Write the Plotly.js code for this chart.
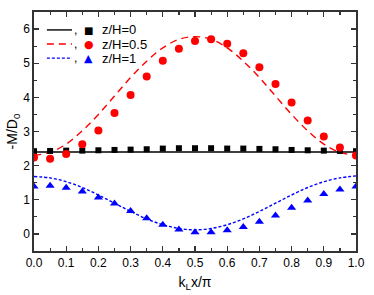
<!DOCTYPE html>
<html>
<head>
<meta charset="utf-8">
<script src="https://cdn.plot.ly/plotly-3.0.1.min.js"></script>
<style>html,body{margin:0;padding:0;background:#fff;}#chart{width:374px;height:295px;}</style>
</head>
<body>
<div id="chart"></div>
<script>
var xPts = [0,0.05,0.1,0.15,0.2,0.25,0.3,0.35,0.4,0.45,0.5,0.55,0.6,0.65,0.7,0.75,0.8,0.85,0.9,0.95,1.0];
var sq0 = [2.43,2.43,2.44,2.44,2.45,2.46,2.47,2.48,2.50,2.51,2.51,2.51,2.50,2.50,2.49,2.48,2.46,2.45,2.44,2.43,2.43];
var circ05 = [2.24,2.20,2.34,2.63,3.03,3.54,4.07,4.61,5.07,5.42,5.65,5.70,5.57,5.29,4.88,4.39,3.85,3.32,2.85,2.53,2.30];
var tri1 = [1.39,1.41,1.35,1.24,1.07,0.89,0.67,0.46,0.27,0.13,0.05,0.05,0.11,0.20,0.36,0.54,0.77,0.98,1.17,1.30,1.39];
var xLine = [0,0.05,0.1,0.15,0.2,0.25,0.3,0.35,0.4,0.45,0.5,0.55,0.6,0.65,0.7,0.75,0.8,0.85,0.9,0.95,1.0];
var line0 = [2.40,2.40,2.40,2.40,2.40,2.40,2.40,2.40,2.40,2.40,2.40,2.40,2.40,2.40,2.40,2.40,2.40,2.40,2.40,2.40,2.40];
var line05 = [2.30,2.39,2.63,3.02,3.50,4.04,4.58,5.06,5.45,5.70,5.78,5.70,5.45,5.06,4.58,4.04,3.50,3.02,2.63,2.39,2.30];
var line1 = [1.68,1.64,1.53,1.36,1.14,0.90,0.66,0.44,0.27,0.16,0.12,0.16,0.27,0.44,0.66,0.90,1.14,1.36,1.53,1.64,1.70];
var legendLabels = ["z/H=0","z/H=0.5","z/H=1"];
var legendSymbols = ["\u25A0","\u25CF","\u25B2"];
var colors = ["#000000","#ff0000","#0000ff"];
var dashes = ["solid","7px,5px","3px,2px"];

var traces = [
  {x:xLine,y:line0,mode:"lines",line:{color:colors[0],width:1.6,dash:dashes[0]},showlegend:false},
  {x:xLine,y:line05,mode:"lines",line:{color:colors[1],width:1.4,dash:dashes[1],shape:"spline"},showlegend:false},
  {x:xLine,y:line1,mode:"lines",line:{color:colors[2],width:1.4,dash:dashes[2],shape:"spline"},showlegend:false},
  {x:xPts,y:sq0,mode:"markers",marker:{symbol:"square",size:6,color:colors[0]},showlegend:false},
  {x:xPts,y:circ05,mode:"markers",marker:{symbol:"circle",size:8,color:colors[1]},showlegend:false},
  {x:xPts,y:tri1,mode:"markers",marker:{symbol:"triangle-up",size:8,color:colors[2]},showlegend:false}
];

var rowsY = [0.925,0.866,0.807];
var shapes = [];
var annotations = [];
for (var i=0;i<3;i++){
  shapes.push({type:"line",xref:"paper",yref:"paper",x0:0.04,x1:0.118,y0:rowsY[i],y1:rowsY[i],
    line:{color:colors[i],width:1.4,dash:dashes[i]}});
  annotations.push({xref:"paper",yref:"paper",x:0.118,y:rowsY[i],
    text:",\u00A0\u00A0<span style='color:"+colors[i]+";font-family:DejaVu Sans;font-size:"+(i===0?10:11)+"px'>"+legendSymbols[i]+"</span>",
    showarrow:false,xanchor:"left",yanchor:"middle",font:{family:"Liberation Sans, Arial",size:12,color:"#000"}});
  annotations.push({xref:"paper",yref:"paper",x:0.205,y:rowsY[i],text:legendLabels[i],showarrow:false,
    xanchor:"left",yanchor:"middle",font:{family:"Liberation Sans, Arial",size:13,color:"#000"}});
}

var axisCommon = {showline:true,linecolor:"#333",linewidth:1.6,mirror:"ticks",ticks:"inside",ticklen:5,
  tickwidth:1.2,tickcolor:"#333",showgrid:false,zeroline:false,
  tickfont:{family:"Liberation Sans, Arial",size:12,color:"#000"}};

var layout = {
  width:374,height:295,
  margin:{l:34,r:18,t:12,b:44},
  paper_bgcolor:"#fff",plot_bgcolor:"#fff",
  showlegend:false,
  xaxis:Object.assign({},axisCommon,{range:[0,1],dtick:0.1,tick0:0,tickformat:".1f",
    minor:{ticks:"inside",ticklen:3,dtick:0.05,tickcolor:"#333",showgrid:false},
    title:{text:"k<sub>L</sub>x/\u03c0",font:{family:"Liberation Sans, Arial",size:14,color:"#000"},standoff:8}}),
  yaxis:Object.assign({},axisCommon,{range:[-0.5,6.5],dtick:1,tick0:0,
    minor:{ticks:"inside",ticklen:3,dtick:0.5,tickcolor:"#333",showgrid:false},
    title:{text:"-M/D<sub>0</sub>",font:{family:"Liberation Sans, Arial",size:14,color:"#000"},standoff:2}}),
  shapes:shapes,
  annotations:annotations
};

Plotly.newPlot("chart",traces,layout,{staticPlot:true,displayModeBar:false});
</script>
</body>
</html>
